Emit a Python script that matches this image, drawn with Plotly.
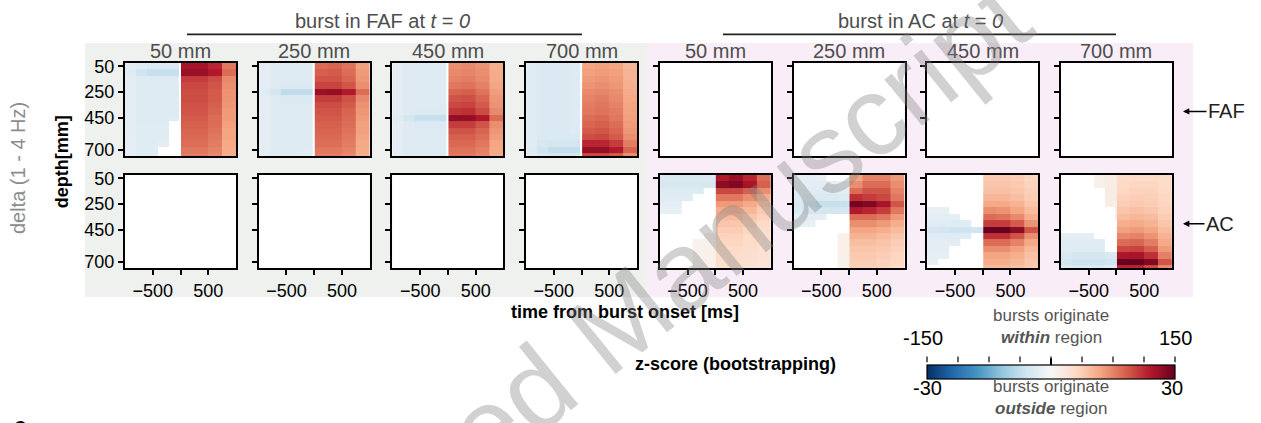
import plotly.graph_objects as go

N = None

# ---------------- data ----------------
DEPTHS = [50, 100, 150, 200, 250, 300, 350, 400, 450, 500, 550, 600, 650, 700, 750]
# time bin edges [ms]: 5 pre-burst bins, a narrow bin at onset, 4 post-burst bins
TIME_EDGES = [-1000, -800, -600, -400, -200, -25, 10, 250, 500, 750, 1000]
DISTANCES = ["50 mm", "250 mm", "450 mm", "700 mm"]
Y_TICKS = [50, 250, 450, 700]
Y_TICK_TEXT = ["50", "250", "450", "700"]
X_TICKS = [-500, 0, 500]
X_TICK_TEXT = ["\u2212500", "", "500"]
Z_WITHIN = [-150, 150]
Z_OUTSIDE = [-30, 30]

# z-scores, rows = depth, cols = time bins (burst in FAF, FAF channels)
faf_50 = [
    [-16, -20, -22, -22, -22, N, 125, 125, 115, 80],
    [-18, -30, -35, -35, -35, N, 130, 130, 120, 85],
    [-16, -20, -20, -20, -20, N, 105, 105, 98, 72],
    [-16, -20, -20, -20, -20, N, 100, 100, 95, 70],
    [-16, -20, -20, -20, -20, N, 98, 98, 92, 68],
    [-16, -20, -20, -20, -20, N, 98, 98, 92, 68],
    [-16, -20, -20, -20, -20, N, 96, 96, 90, 66],
    [-16, -20, -20, -20, -20, N, 95, 95, 88, 65],
    [-16, -20, -20, -20, -18, N, 92, 92, 85, 64],
    [-16, -18, -18, -18, N, N, 90, 90, 84, 62],
    [-16, -18, -18, -18, N, N, 88, 88, 82, 60],
    [-15, -18, -18, -18, N, N, 86, 86, 80, 60],
    [-15, -18, -18, -16, N, N, 84, 84, 78, 58],
    [-15, -18, -18, N, N, N, 80, 80, 75, 56],
    [-15, -18, -18, N, N, N, 78, 78, 72, 55],
]
faf_250 = [
    [-16, -20, -20, -20, -20, N, 85, 88, 82, 62],
    [-16, -20, -20, -20, -20, N, 90, 92, 85, 65],
    [-16, -20, -20, -20, -20, N, 95, 95, 88, 66],
    [-16, -20, -22, -22, -22, N, 102, 102, 94, 70],
    [-18, -28, -38, -38, -38, N, 130, 132, 120, 85],
    [-16, -20, -22, -22, -22, N, 105, 105, 96, 72],
    [-16, -20, -20, -20, -20, N, 98, 98, 92, 68],
    [-16, -20, -20, -20, -20, N, 95, 95, 88, 66],
    [-16, -20, -20, -20, -20, N, 92, 92, 86, 64],
    [-16, -20, -20, -20, -20, N, 90, 90, 84, 62],
    [-16, -20, -20, -20, -20, N, 88, 88, 82, 62],
    [-16, -20, -20, -20, -20, N, 86, 86, 80, 60],
    [-16, -20, -20, -20, -20, N, 84, 84, 78, 58],
    [-16, -20, -20, -20, -18, N, 80, 80, 75, 56],
    [-16, -20, -20, -20, -18, N, 78, 78, 72, 55],
]
faf_450 = [
    [-16, -20, -20, -20, -20, N, 70, 72, 68, 55],
    [-16, -20, -20, -20, -20, N, 72, 74, 70, 56],
    [-16, -20, -20, -20, -20, N, 75, 77, 72, 57],
    [-16, -20, -20, -20, -20, N, 80, 82, 76, 60],
    [-16, -20, -20, -20, -20, N, 88, 90, 82, 63],
    [-16, -20, -20, -20, -20, N, 95, 97, 88, 66],
    [-16, -20, -20, -20, -20, N, 100, 102, 92, 68],
    [-16, -20, -22, -22, -22, N, 108, 110, 98, 72],
    [-18, -28, -35, -35, -35, N, 132, 132, 120, 85],
    [-16, -20, -22, -22, -22, N, 105, 105, 95, 70],
    [-16, -20, -20, -20, -20, N, 95, 95, 88, 66],
    [-16, -20, -20, -20, -20, N, 90, 90, 84, 63],
    [-16, -20, -20, -20, -20, N, 86, 86, 80, 60],
    [-16, -20, -20, -20, -20, N, 82, 82, 76, 58],
    [-16, -20, -20, -20, -20, N, 80, 80, 74, 56],
]
faf_700 = [
    [-18, -22, -22, -22, -20, N, 60, 62, 60, 50],
    [-18, -22, -22, -22, -20, N, 62, 64, 62, 52],
    [-18, -22, -22, -22, -20, N, 65, 67, 64, 53],
    [-18, -22, -22, -22, -20, N, 68, 70, 66, 54],
    [-18, -22, -22, -22, -20, N, 72, 74, 70, 56],
    [-18, -22, -22, -22, -20, N, 75, 78, 72, 58],
    [-18, -22, -22, -22, -20, N, 78, 80, 75, 60],
    [-18, -22, -22, -22, -20, N, 80, 82, 78, 61],
    [-18, -22, -22, -22, -20, N, 84, 86, 80, 62],
    [-18, -22, -22, -22, -20, N, 88, 90, 84, 64],
    [-18, -22, -22, -22, -20, N, 92, 94, 88, 66],
    [-18, -22, -22, -22, -22, N, 98, 100, 92, 70],
    [-18, -25, -28, -28, -28, N, 115, 115, 105, 78],
    [-20, -30, -36, -36, -36, N, 132, 132, 120, 88],
    [-18, -24, -26, -26, -26, N, 100, 100, 92, 70],
]
# burst in AC, AC channels
ac_50 = [
    [-22, -22, -22, -22, -22, -22, 120, 130, 115, 85],
    [-25, -25, -25, -25, -25, -25, 135, 140, 125, 90],
    [-20, -20, -20, -20, N, N, 100, 100, 90, 70],
    [-18, -18, -18, N, N, N, 80, 80, 70, 55],
    [-15, -15, N, N, N, N, 65, 65, 58, 45],
    [-12, -12, N, N, N, N, 55, 55, 50, 40],
    [N, N, N, N, N, N, 48, 48, 42, 35],
    [N, N, N, N, N, N, 42, 42, 38, 30],
    [N, N, N, N, N, N, 38, 38, 33, 27],
    [N, N, N, N, 8, 8, 34, 34, 30, 25],
    [N, N, N, 6, 8, 8, 32, 32, 28, 24],
    [N, N, N, 6, 8, 8, 30, 30, 27, 23],
    [N, N, N, 6, 8, 8, 28, 28, 25, 22],
    [N, N, N, 6, 8, 8, 27, 27, 24, 21],
    [N, N, N, 6, 8, 8, 26, 26, 23, 20],
]
ac_250 = [
    [-15, -15, -12, N, N, N, 60, 75, 75, 65],
    [-16, -16, -16, -15, -12, -12, 70, 85, 85, 70],
    [-18, -18, -18, -18, -16, -16, 85, 95, 95, 75],
    [-20, -22, -22, -22, -20, -20, 110, 105, 100, 80],
    [-25, -32, -35, -35, -35, -32, 145, 140, 125, 95],
    [-22, -26, -28, -28, -26, -24, 120, 115, 105, 80],
    [-15, -15, -15, N, N, N, 85, 85, 80, 65],
    [-12, -12, N, N, N, N, 70, 70, 65, 55],
    [N, N, N, N, N, N, 60, 60, 55, 48],
    [N, N, N, N, 8, 8, 52, 52, 48, 42],
    [N, N, N, N, 8, 8, 46, 46, 43, 38],
    [N, N, N, N, 8, 8, 42, 42, 40, 35],
    [N, N, N, N, 8, 8, 40, 40, 37, 33],
    [N, N, N, N, 8, 8, 38, 38, 35, 32],
    [N, N, N, N, 8, 8, 36, 36, 34, 30],
]
ac_450 = [
    [N, N, N, N, N, N, 40, 40, 38, 32],
    [N, N, N, N, N, N, 42, 42, 40, 34],
    [N, N, N, N, N, N, 45, 45, 42, 36],
    [N, N, N, N, N, N, 50, 50, 46, 38],
    [N, N, N, N, N, N, 58, 58, 52, 42],
    [-14, -14, N, N, N, N, 70, 68, 60, 48],
    [-16, -16, -15, N, N, N, 85, 82, 72, 55],
    [-18, -18, -18, -18, N, N, 105, 105, 92, 68],
    [-26, -28, -30, -30, -30, -26, 150, 150, 135, 95],
    [-18, -18, -18, -18, N, N, 110, 110, 95, 70],
    [-16, -16, -16, N, N, N, 85, 85, 75, 58],
    [-15, -15, N, N, N, N, 70, 70, 62, 50],
    [-14, -14, N, N, N, N, 60, 60, 55, 45],
    [-12, N, N, N, N, N, 55, 55, 50, 42],
    [N, N, N, N, N, N, 50, 50, 45, 40],
]
ac_700 = [
    [N, N, N, 8, 12, 12, 28, 30, 30, 28],
    [N, N, N, 8, 12, 12, 30, 32, 32, 28],
    [N, N, N, N, 12, 12, 32, 34, 34, 30],
    [N, N, N, N, 12, 12, 35, 37, 36, 32],
    [N, N, N, N, 10, 10, 38, 40, 38, 33],
    [N, N, N, N, N, 10, 42, 45, 42, 35],
    [N, N, N, N, N, 10, 47, 50, 47, 38],
    [N, N, N, N, N, N, 55, 57, 52, 42],
    [N, N, N, N, N, N, 62, 65, 60, 47],
    [-15, -15, -15, N, N, N, 72, 75, 68, 52],
    [-18, -18, -18, -18, N, N, 85, 88, 78, 58],
    [-18, -18, -18, -18, N, N, 100, 102, 90, 65],
    [-24, -26, -26, -26, -24, -22, 122, 124, 110, 76],
    [-28, -32, -32, -32, -30, -26, 150, 150, 140, 95],
    [-20, -22, -22, -22, -20, -18, 115, 115, 100, 72],
]

# ---------------- layout helpers ----------------
W, H = 1261, 423
FONT = "Liberation Sans, Arial, Helvetica, sans-serif"


def fx(px):
    return px / W


def fy(py):
    return 1 - py / H


RdBu_r = [
    [0.0, "rgb(5,48,97)"], [0.1, "rgb(33,102,172)"], [0.2, "rgb(67,147,195)"],
    [0.3, "rgb(146,197,222)"], [0.4, "rgb(209,229,240)"], [0.5, "rgb(247,247,247)"],
    [0.6, "rgb(253,219,199)"], [0.7, "rgb(244,165,130)"], [0.8, "rgb(214,96,77)"],
    [0.9, "rgb(178,24,43)"], [1.0, "rgb(103,0,31)"],
]

PANEL_W = 111
LEFTS = [125 + i * 133.7 for i in range(8)]
ROWS = [(58, 154), (172.7, 268.5)]

panels = {
    (0, 0): faf_50, (0, 1): faf_250, (0, 2): faf_450, (0, 3): faf_700,
    (1, 4): ac_50, (1, 5): ac_250, (1, 6): ac_450, (1, 7): ac_700,
}

fig = go.Figure()
layout = {}
shapes = []

# background blocks
shapes.append(dict(type="rect", xref="paper", yref="paper", x0=fx(85), x1=fx(647),
                   y0=fy(298), y1=fy(38), fillcolor="#eef1ed", line_width=0, layer="below"))
shapes.append(dict(type="rect", xref="paper", yref="paper", x0=fx(647), x1=fx(1193),
                   y0=fy(298), y1=fy(38), fillcolor="#f9eef7", line_width=0, layer="below"))

first = True
for r in range(2):
    for c in range(8):
        k = r * 8 + c + 1
        sx = "" if k == 1 else str(k)
        x0, x1 = LEFTS[c], LEFTS[c] + PANEL_W
        y0, y1 = ROWS[r]
        shapes.append(dict(type="rect", xref="paper", yref="paper", x0=fx(x0), x1=fx(x1),
                           y0=fy(y1), y1=fy(y0), fillcolor="white", line_width=0, layer="below"))
        layout["xaxis" + sx] = dict(
            domain=[fx(x0), fx(x1)], anchor="y" + sx, range=[-1000, 1000],
            showline=True, mirror=True, linewidth=2, linecolor="black",
            showgrid=False, zeroline=False,
            ticks="outside" if r == 1 else "", tickvals=X_TICKS if r == 1 else [],
            ticktext=X_TICK_TEXT if r == 1 else [], showticklabels=(r == 1),
            ticklen=5, tickwidth=1.5, tickcolor="black",
            tickfont=dict(size=18, color="black", family=FONT),
        )
        layout["yaxis" + sx] = dict(
            domain=[fy(y1), fy(y0)], anchor="x" + sx, range=[748, 22],
            showline=True, mirror=True, linewidth=2, linecolor="black",
            showgrid=False, zeroline=False, ticks="outside",
            tickvals=Y_TICKS, ticktext=Y_TICK_TEXT, showticklabels=(c == 0),
            ticklen=5, tickwidth=1.5, tickcolor="black",
            tickfont=dict(size=18, color="black", family=FONT),
        )
        if (r, c) in panels:
            fig.add_trace(go.Heatmap(
                z=panels[(r, c)], x=TIME_EDGES, y=DEPTHS,
                xaxis="x" + sx, yaxis="y" + sx,
                zmin=Z_WITHIN[0], zmax=Z_WITHIN[1], colorscale=RdBu_r,
                hoverinfo="skip", showscale=first,
                colorbar=dict(
                    orientation="h", x=fx(1051), xanchor="center", y=fy(368), yanchor="top",
                    len=248 / W, lenmode="fraction", thickness=14, thicknessmode="pixels",
                    xpad=0, ypad=0, outlinewidth=1.2, outlinecolor="black",
                    showticklabels=False, ticks="",
                ),
            ))
            first = False
        else:
            # empty panel: no significant data for this combination
            fig.add_trace(go.Scatter(x=[], y=[], xaxis="x" + sx, yaxis="y" + sx,
                                     mode="markers", hoverinfo="skip"))

# colorbar decorations
for i in range(9):
    xp = 927 + i * 31
    shapes.append(dict(type="line", xref="paper", yref="paper", x0=fx(xp), x1=fx(xp),
                       y0=fy(365), y1=fy(359), line=dict(color="black", width=1.2)))
shapes.append(dict(type="line", xref="paper", yref="paper", x0=fx(1051), x1=fx(1051),
                   y0=fy(375), y1=fy(361), line=dict(color="black", width=2)))

# header lines
shapes.append(dict(type="line", xref="paper", yref="paper", x0=fx(187), x1=fx(582),
                   y0=fy(29), y1=fy(29), line=dict(color="#222222", width=1.8)))
shapes.append(dict(type="line", xref="paper", yref="paper", x0=fx(723), x1=fx(1116),
                   y0=fy(29), y1=fy(29), line=dict(color="#222222", width=1.8)))

ann = []


def text(x, y, t, size=18, color="black", **kw):
    d = dict(x=fx(x), y=fy(y), xref="paper", yref="paper", text=t, showarrow=False,
             xanchor="center", yanchor="middle",
             font=dict(size=size, color=color, family=FONT))
    d.update(kw)
    ann.append(d)


text(383, 15, "burst in FAF at <i>t</i> = <i>0</i>", 20, "#4d4d4d")
text(920, 15, "burst in AC at <i>t</i> = <i>0</i>", 20, "#4d4d4d")
for c in range(8):
    text(LEFTS[c] + PANEL_W / 2, 46, DISTANCES[c % 4], 20, "#4d4d4d")

text(18, 166, "delta (1 - 4 Hz)", 20, "#8c8c8c", textangle=-90)
text(62, 160, "<b>depth[mm]</b>", 18, "black", textangle=-90)
text(625, 313, "<b>time from burst onset [ms]</b>", 18)
text(838, 367, "<b>z-score (bootstrapping)</b>", 18, xanchor="right")

text(1051, 317, "bursts originate", 17, "#555555")
text(1051, 340, "<b><i>within</i></b> region", 17, "#555555")
text(1051, 390, "bursts originate", 17, "#555555")
text(1051, 412, "<b><i>outside</i></b> region", 17, "#555555")
text(923, 340, str(Z_WITHIN[0]), 20)
text(1175, 340, str(Z_WITHIN[1]), 20)
text(927, 391, str(Z_OUTSIDE[0]), 20)
text(1172, 391, str(Z_OUTSIDE[1]), 20)

# region arrows
for lab, yy in [("FAF", 108), ("AC", 223)]:
    ann.append(dict(x=fx(1183), y=fy(yy), xref="paper", yref="paper", text=lab,
                    showarrow=True, ax=22 + 6.5 * len(lab) + 2, ay=0, arrowhead=2,
                    arrowsize=0.9, arrowwidth=1.4, arrowcolor="black",
                    xanchor="center", yanchor="middle",
                    font=dict(size=20, color="#222222", family=FONT)))

# panel letter (clipped at bottom)
text(20, 430, "<b>c</b>", 22)

# watermark
ann.append(dict(x=fx(603), y=fy(336), xref="paper", yref="paper", text="Accepted Manuscript",
                showarrow=False, textangle=-39, xanchor="center", yanchor="middle",
                font=dict(size=113, color="rgba(128,128,128,0.36)", family=FONT)))

fig.update_layout(
    width=W, height=H, autosize=False, margin=dict(l=0, r=0, t=0, b=0),
    paper_bgcolor="white", plot_bgcolor="white", showlegend=False,
    font=dict(family=FONT), shapes=shapes, annotations=ann, **layout,
)

fig.write_html("out.html")
